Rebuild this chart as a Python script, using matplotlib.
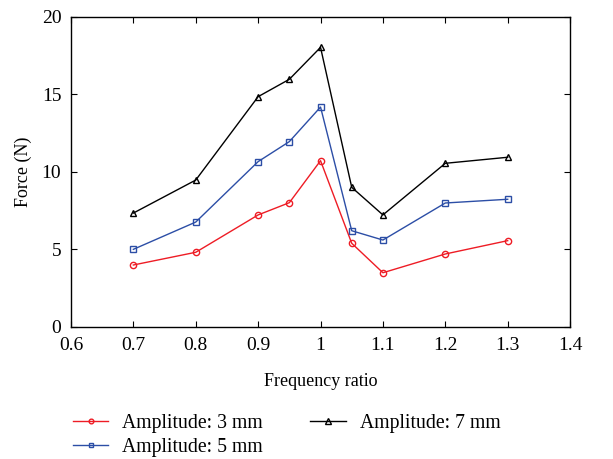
import matplotlib.pyplot as plt

plt.rcParams['font.family'] = ['Liberation Serif', 'DejaVu Serif']

freq_ratio = [0.7, 0.8, 0.9, 0.95, 1.0, 1.05, 1.1, 1.2, 1.3]
force_3mm = [4.0, 4.82, 7.23, 8.02, 10.73, 5.4, 3.5, 4.71, 5.57]
force_5mm = [5.01, 6.77, 10.67, 11.96, 14.19, 6.21, 5.61, 8.0, 8.24]
force_7mm = [7.35, 9.48, 14.86, 15.98, 18.04, 9.01, 7.23, 10.56, 10.95]

fig = plt.figure(figsize=(6.13, 4.59), dpi=100)
ax = fig.add_axes([0.1158, 0.2876, 0.8142, 0.6754])

ax.plot(freq_ratio, force_3mm, color='#ee1c25', marker='o', ms=4.5, mfc='none', lw=1.0,
        label='Amplitude: 3 mm')
ax.plot(freq_ratio, force_5mm, color='#2c4ea6', marker='s', ms=4.3, mfc='none', lw=1.0,
        label='Amplitude: 5 mm')
ax.plot(freq_ratio, force_7mm, color='black', marker='^', ms=5, mfc='none', lw=1.0,
        label='Amplitude: 7 mm')

ax.set_xlim(0.6, 1.4)
ax.set_ylim(0, 20)
ax.set_xticks([0.6, 0.7, 0.8, 0.9, 1.0, 1.1, 1.2, 1.3, 1.4])
ax.set_xticklabels(['0.6', '0.7', '0.8', '0.9', '1', '1.1', '1.2', '1.3', '1.4'])
ax.set_yticks([0, 5, 10, 15, 20])
ax.tick_params(direction='in', top=True, right=True, labelsize=14, length=4, pad=7)
for s in ax.spines.values():
    s.set_linewidth(1.0)

ax.set_xlabel('Frequency ratio', fontsize=13, labelpad=14)
ax.set_ylabel('Force (N)', fontsize=13, labelpad=7)

ax.legend(loc='upper left', bbox_to_anchor=(0.004, -0.28), ncol=2, frameon=False,
          fontsize=14.2, handlelength=1.8, columnspacing=2.4, labelspacing=0.28,
          handletextpad=0.7, borderaxespad=0, borderpad=0, markerscale=0.75)

fig.savefig('out.png', dpi=100)
